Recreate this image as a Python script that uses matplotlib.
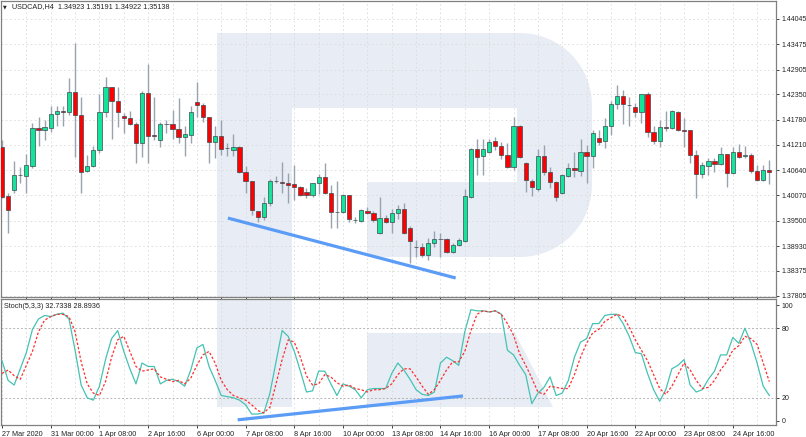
import numpy as np
import matplotlib.pyplot as plt
from matplotlib.patches import Polygon

plt.rcParams['font.family'] = ['Liberation Sans', 'DejaVu Sans']

# USDCAD H4 candles, first bar 27 Mar 2020 16:00
opens = [1.4116, 1.4006, 1.4019, 1.4052, 1.4051, 1.4073, 1.4159, 1.4154, 1.4159, 1.4190,
         1.4197, 1.4195, 1.4240, 1.4188, 1.4062, 1.4073, 1.4109, 1.4195, 1.4251, 1.4220,
         1.4186, 1.4181, 1.4168, 1.4125, 1.4238, 1.4143, 1.4132, 1.4167, 1.4168, 1.4157,
         1.4139, 1.4143, 1.4218, 1.4211, 1.4184, 1.4127, 1.4141, 1.4114, 1.4109, 1.4116,
         1.4060, 1.4040, 1.3972, 1.3958, 1.3990, 1.4040, 1.4037, 1.4035, 1.4033, 1.4026,
         1.4015, 1.4008, 1.4035, 1.4049, 1.4012, 1.3970, 1.3970, 1.4008, 1.3952, 1.3949,
         1.3972, 1.3967, 1.3922, 1.3956, 1.3947, 1.3967, 1.3976, 1.3934, 1.3891, 1.3891,
         1.3873, 1.3900, 1.3909, 1.3909, 1.3880, 1.3895, 1.3904, 1.4003, 1.4112, 1.4096,
         1.4105, 1.4130, 1.4118, 1.4098, 1.4071, 1.4163, 1.4080, 1.4040, 1.4021, 1.4096,
         1.4060, 1.4037, 1.4012, 1.4051, 1.4069, 1.4062, 1.4105, 1.4096, 1.4136, 1.4130,
         1.4163, 1.4213, 1.4231, 1.4211, 1.4206, 1.4195, 1.4236, 1.4150, 1.4130, 1.4161,
         1.4159, 1.4195, 1.4154, 1.4154, 1.4098, 1.4055, 1.4073, 1.4085, 1.4078, 1.4100,
         1.4058, 1.4105, 1.4096, 1.4098, 1.4062, 1.4042, 1.4064]
highs = [1.4132, 1.4012, 1.4085, 1.4071, 1.4100, 1.4170, 1.4184, 1.4177, 1.4208, 1.4208,
         1.4208, 1.4272, 1.4350, 1.4229, 1.4098, 1.4118, 1.4236, 1.4274, 1.4251, 1.4251,
         1.4193, 1.4197, 1.4172, 1.4242, 1.4303, 1.4229, 1.4172, 1.4177, 1.4199, 1.4227,
         1.4163, 1.4208, 1.4263, 1.4215, 1.4184, 1.4163, 1.4177, 1.4125, 1.4145, 1.4118,
         1.4073, 1.4040, 1.3972, 1.4003, 1.4044, 1.4051, 1.4082, 1.4058, 1.4076, 1.4028,
         1.4024, 1.4035, 1.4055, 1.4080, 1.4031, 1.4040, 1.4010, 1.4008, 1.3958, 1.3976,
         1.3981, 1.3972, 1.4003, 1.3963, 1.3976, 1.3985, 1.3990, 1.3938, 1.3907, 1.3900,
         1.3911, 1.3927, 1.3922, 1.3911, 1.3900, 1.3911, 1.4021, 1.4114, 1.4134, 1.4134,
         1.4134, 1.4139, 1.4127, 1.4125, 1.4184, 1.4166, 1.4082, 1.4044, 1.4112, 1.4121,
         1.4071, 1.4040, 1.4055, 1.4080, 1.4105, 1.4134, 1.4121, 1.4154, 1.4154, 1.4181,
         1.4220, 1.4256, 1.4245, 1.4229, 1.4215, 1.4236, 1.4240, 1.4163, 1.4177, 1.4197,
         1.4199, 1.4197, 1.4181, 1.4154, 1.4109, 1.4082, 1.4091, 1.4091, 1.4116, 1.4100,
         1.4116, 1.4123, 1.4118, 1.4103, 1.4076, 1.4076, 1.4087]
lows = [1.4001, 1.3922, 1.4012, 1.4035, 1.4012, 1.4069, 1.4118, 1.4132, 1.4150, 1.4163,
        1.4163, 1.4188, 1.4094, 1.4012, 1.4060, 1.4071, 1.4103, 1.4184, 1.4134, 1.4161,
        1.4148, 1.4166, 1.4080, 1.4094, 1.4080, 1.4132, 1.4116, 1.4148, 1.4134, 1.4125,
        1.4096, 1.4125, 1.4184, 1.4172, 1.4080, 1.4091, 1.4098, 1.4096, 1.4096, 1.4058,
        1.4012, 1.3963, 1.3947, 1.3952, 1.3983, 1.4035, 1.4012, 1.3990, 1.3997, 1.4006,
        1.4001, 1.4003, 1.4010, 1.4010, 1.3934, 1.3934, 1.3967, 1.3947, 1.3945, 1.3947,
        1.3965, 1.3947, 1.3920, 1.3945, 1.3922, 1.3954, 1.3920, 1.3855, 1.3868, 1.3868,
        1.3862, 1.3891, 1.3868, 1.3877, 1.3877, 1.3893, 1.3902, 1.4001, 1.4053, 1.4053,
        1.4103, 1.4109, 1.4089, 1.4069, 1.4064, 1.4091, 1.4015, 1.4006, 1.4017, 1.4053,
        1.4024, 1.3994, 1.4010, 1.4049, 1.4049, 1.4051, 1.4035, 1.4069, 1.4121, 1.4114,
        1.4143, 1.4202, 1.4168, 1.4163, 1.4184, 1.4170, 1.4139, 1.4123, 1.4116, 1.4152,
        1.4157, 1.4152, 1.4116, 1.4080, 1.4001, 1.4046, 1.4053, 1.4060, 1.4076, 1.4026,
        1.4055, 1.4091, 1.4091, 1.4058, 1.4040, 1.4040, 1.4033]
closes = [1.4003, 1.3974, 1.4053, 1.4053, 1.4076, 1.4159, 1.4154, 1.4161, 1.4190, 1.4197,
          1.4195, 1.4240, 1.4188, 1.4060, 1.4073, 1.4109, 1.4195, 1.4251, 1.4220, 1.4195,
          1.4181, 1.4168, 1.4125, 1.4238, 1.4141, 1.4142, 1.4168, 1.4168, 1.4157, 1.4139,
          1.4145, 1.4195, 1.4211, 1.4184, 1.4127, 1.4141, 1.4112, 1.4113, 1.4116, 1.4060,
          1.4040, 1.3974, 1.3958, 1.3990, 1.4040, 1.4039, 1.4035, 1.4031, 1.4026, 1.4008,
          1.4008, 1.4035, 1.4049, 1.4012, 1.3970, 1.3969, 1.4008, 1.3954, 1.3951, 1.3974,
          1.3967, 1.3952, 1.3956, 1.3947, 1.3967, 1.3976, 1.3922, 1.3904, 1.3890, 1.3873,
          1.3900, 1.3909, 1.3908, 1.3880, 1.3895, 1.3907, 1.4006, 1.4112, 1.4094, 1.4112,
          1.4127, 1.4118, 1.4098, 1.4071, 1.4163, 1.4094, 1.4042, 1.4026, 1.4096, 1.4060,
          1.4037, 1.4003, 1.4053, 1.4069, 1.4064, 1.4105, 1.4096, 1.4148, 1.4127, 1.4163,
          1.4213, 1.4231, 1.4213, 1.4210, 1.4195, 1.4236, 1.4150, 1.4130, 1.4161, 1.4160,
          1.4197, 1.4154, 1.4153, 1.4098, 1.4055, 1.4076, 1.4085, 1.4078, 1.4100, 1.4058,
          1.4105, 1.4094, 1.4098, 1.4062, 1.4042, 1.4064, 1.4060]

# Stochastic(5,3,3): main line and signal line
stoch_k = [52, 35, 31, 45, 59, 79, 88, 91, 90, 92, 93, 88, 61, 31, 20, 18, 30, 53, 71, 78,
           60, 45, 32, 50, 47, 47, 32, 35, 36, 34, 30, 44, 63, 66, 47, 35, 22, 21, 20, 18,
           14, 6, 6, 7, 24, 51, 78, 73, 60, 43, 25, 26, 43, 43, 32, 22, 32, 30, 27, 20,
           27, 28, 28, 28, 41, 50, 44, 36, 27, 23, 22, 25, 50, 55, 52, 48, 77, 96, 95, 95,
           94, 95, 92, 61, 57, 48, 40, 15, 24, 29, 38, 22, 24, 35, 55, 68, 71, 84, 84, 91,
           92, 92, 84, 73, 59, 58, 41, 27, 17, 27, 45, 48, 53, 31, 25, 27, 36, 43, 57, 57,
           72, 67, 80, 67, 50, 30, 22]
stoch_d = [41, 44, 39, 36, 48, 60, 77, 87, 90, 92, 92, 90, 77, 51, 32, 24, 22, 34, 55, 70,
           73, 60, 47, 43, 44, 45, 38, 36, 34, 35, 32, 37, 48, 57, 60, 50, 35, 27, 22, 20,
           18, 14, 9, 7, 12, 32, 53, 70, 68, 55, 39, 31, 32, 40, 38, 33, 30, 31, 28, 27,
           25, 27, 27, 28, 32, 40, 45, 45, 38, 30, 23, 27, 35, 44, 51, 51, 60, 78, 92, 95,
           94, 95, 92, 84, 74, 58, 48, 37, 25, 23, 30, 29, 28, 28, 40, 55, 67, 76, 79, 86,
           89, 92, 90, 81, 70, 61, 52, 40, 28, 23, 30, 40, 50, 44, 35, 28, 29, 35, 44, 51,
           61, 65, 73, 71, 66, 50, 34]

price_ticks = [1.37805, 1.38375, 1.38930, 1.39500, 1.40070, 1.40640,
               1.41210, 1.41780, 1.42350, 1.42905, 1.43475, 1.44045]
stoch_ticks = [0, 20, 80, 100]
stoch_levels = [20, 80]
date_labels = ['27 Mar 2020', '31 Mar 00:00', '1 Apr 08:00', '2 Apr 16:00', '6 Apr 00:00',
               '7 Apr 08:00', '8 Apr 16:00', '10 Apr 00:00', '13 Apr 08:00', '14 Apr 16:00',
               '16 Apr 00:00', '17 Apr 08:00', '20 Apr 16:00', '22 Apr 00:00', '23 Apr 08:00',
               '24 Apr 16:00']
label_step = 8
grid_step = 4

# divergence lines
trend_price_x = [37.1, 74.5]
trend_price_y = [1.3956, 1.3821]
trend_stoch_x = [38.7, 75.7]
trend_stoch_y = [1.0, 21.6]

W, H = 806, 437
fig = plt.figure(figsize=(W / 100, H / 100), dpi=100)
ax = fig.add_axes([1 / W, 1 - 297 / H, 775 / W, 296 / H])
ax2 = fig.add_axes([1 / W, 1 - 425 / H, 775 / W, 126 / H])

# watermark logo, in figure pixels (y down)
def to_fig(pts):
    return [(px / W, 1 - py / H) for px, py in pts]

r = 72
t1 = np.linspace(-np.pi / 2, 0, 20)
t2 = np.linspace(0, np.pi / 2, 20)
bowl = [(217, 33)]
bowl += [(520 + r * np.cos(t), 105 + r * np.sin(t)) for t in t1]
bowl += [(520 + r * np.cos(t), 185 + r * np.sin(t)) for t in t2]
bowl += [(367, 257), (367, 182), (517, 182), (517, 108), (292, 108), (292, 407), (217, 407)]
leg = [(367, 333), (515, 333), (553, 407), (367, 407)]
for a in (ax, ax2):
    for shape in (bowl, leg):
        a.add_patch(Polygon(to_fig(shape), closed=True, transform=fig.transFigure,
                            facecolor='#e8edf5', edgecolor='none', zorder=0))

n = len(opens)
x = np.arange(n)
o = np.array(opens)
c = np.array(closes)
up = c >= o
body_h = np.maximum(np.abs(c - o), 0.00003)
body_b = np.minimum(o, c)

ax.vlines(x, lows, highs, color='#98a3ae', lw=1.0, zorder=2)
ax.bar(x, body_h, bottom=body_b, width=0.7,
       color=np.where(up, '#12e49a', '#ff0000'), edgecolor='#3d4852', linewidth=0.5, zorder=3)
ax.plot(trend_price_x, trend_price_y, color='#5b9cf6', lw=2.3, solid_capstyle='butt', zorder=4)

ax2.plot(x, stoch_k, color='#45c2b3', lw=0.9, zorder=3)
ax2.plot(x, stoch_d, color='#ff2f2f', lw=0.9, ls=(0, (2, 1.5)), zorder=3)
ax2.plot(trend_stoch_x, trend_stoch_y, color='#5b9cf6', lw=2.3, solid_capstyle='butt', zorder=4)
for lv in stoch_levels:
    ax2.axhline(lv, color='#b5b5b5', lw=0.7, ls=(0, (2, 2)), zorder=1)

xlim = (-0.164, 127.1)
ax.set_xlim(xlim)
ax2.set_xlim(xlim)
ax.set_ylim(1.37782, 1.44450)
ax2.set_ylim(-3.45, 105.2)

label_pos = np.arange(len(date_labels)) * label_step
grid_pos = np.arange(grid_step, n, grid_step)

ax.set_xticks(grid_pos)
ax.tick_params(axis='x', length=0, labelbottom=False)
ax.set_yticks(price_ticks)
ax.set_yticklabels(['%.5f' % p for p in price_ticks])
ax.yaxis.tick_right()
ax.grid(True, color='#dadada', lw=0.6, ls=(0, (2, 3)))
ax.set_axisbelow(True)

ax2.set_xticks(label_pos)
ax2.set_xticklabels(date_labels, ha='left')
ax2.set_xticks(grid_pos, minor=True)
ax2.tick_params(axis='x', which='minor', length=0)
ax2.grid(True, axis='x', which='both', color='#dadada', lw=0.6, ls=(0, (2, 3)))
ax2.set_yticks(stoch_ticks)
ax2.yaxis.tick_right()
ax2.set_axisbelow(True)

for a in (ax, ax2):
    a.tick_params(axis='y', direction='out', length=2.5, width=0.6, pad=1.5,
                  labelsize=5, colors='#222222')
    a.tick_params(axis='x', which='major', direction='out', length=2.5, width=0.6, pad=1.5,
                  labelsize=5.2, colors='#222222')
    for s in a.spines.values():
        s.set_color('#808080')
        s.set_linewidth(0.9)

fig.text(3 / W, 1 - 7 / H, '\u25bc', fontsize=3.5, va='center', ha='left',
         family='DejaVu Sans', color='#222222')
fig.text(12 / W, 1 - 7 / H, 'USDCAD,H4  1.34923 1.35191 1.34922 1.35138',
         fontsize=5.2, va='center', ha='left', color='#222222')
fig.text(4 / W, 1 - 306 / H, 'Stoch(5,3,3) 32.7338 28.8936',
         fontsize=5.2, va='center', ha='left', color='#222222')

fig.savefig('out.png', dpi=100)
